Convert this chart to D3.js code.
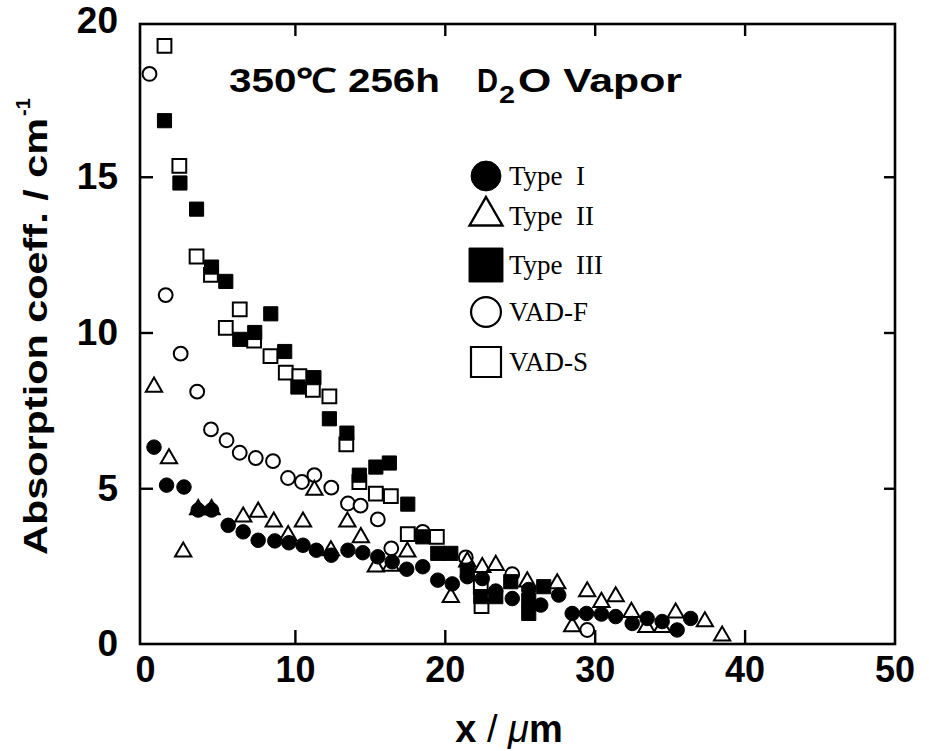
<!DOCTYPE html>
<html>
<head>
<meta charset="utf-8">
<script src="https://cdn.jsdelivr.net/npm/d3@7"></script>
<style>
  html, body { margin: 0; padding: 0; background: #fff; }
  svg { display: block; }
  text { fill: #000; }
</style>
</head>
<body>
<svg id="chart" width="929" height="751"></svg>
<script>
// ---------------- data (x in µm, absorption coeff in cm^-1) ----------------
const typeI = [
  [0.6,6.32],[1.44,5.1],[2.6,5.04],[3.55,4.3],[4.44,4.3],[5.55,3.81],[6.55,3.6],
  [7.55,3.33],[8.66,3.31],[9.6,3.25],[10.54,3.17],[11.43,3.01],[12.43,2.85],
  [13.54,3.01],[14.53,2.93],[15.53,2.8],[16.49,2.64],[17.46,2.4],[18.53,2.48],
  [19.53,2.05],[20.5,1.93],[21.5,2.16],[22.5,2.1],[23.4,1.7],[24.5,1.46],
  [25.6,1.75],[26.4,1.25],[27.6,1.57],[28.5,0.98],[29.45,0.98],[30.45,0.96],
  [31.4,0.88],[32.5,0.66],[33.5,0.82],[34.5,0.72],[35.5,0.45],[36.4,0.82]
];
const typeII = [
  [0.6,8.25],[1.6,5.95],[2.55,2.96],[3.55,4.32],[4.44,4.32],[6.55,4.08],[7.55,4.24],
  [8.59,3.92],[9.55,3.49],[10.54,3.92],[11.3,4.94],[12.4,3.0],[13.5,3.92],
  [14.4,3.42],[15.4,2.48],[16.4,2.5],[17.5,2.96],[20.4,1.5],[21.5,2.64],
  [22.5,2.46],[23.4,2.53],[25.5,2.0],[27.5,1.94],[28.5,0.56],[29.5,1.68],
  [30.45,1.34],[31.4,1.52],[32.45,1.02],[33.45,0.54],[34.5,0.54],[35.4,1.0],
  [37.35,0.72],[38.5,0.26]
];
const typeIII = [
  [1.3,16.8],[2.33,14.8],[3.44,13.96],[4.44,12.1],[5.39,11.64],[6.32,9.78],
  [7.32,10.0],[8.39,10.6],[9.32,9.39],[10.2,8.25],[11.27,8.55],[12.3,7.23],
  [13.47,6.77],[14.3,5.42],[15.4,5.68],[16.3,5.81],[17.53,4.49],[18.53,3.44],
  [19.53,2.91],[20.4,2.91],[21.5,2.37],[22.4,1.52],[23.4,1.52],[24.4,2.0],
  [25.6,1.4],[25.6,0.98],[26.6,1.84]
];
const vadF = [
  [0.3,18.3],[1.38,11.2],[2.38,9.32],[3.48,8.1],[4.4,6.89],[5.44,6.54],[6.32,6.14],
  [7.39,5.97],[8.54,5.87],[9.54,5.33],[10.47,5.2],[11.3,5.42],[12.43,5.02],
  [13.54,4.51],[14.38,4.44],[15.53,4.0],[16.43,3.07],[18.53,3.6],[21.4,2.78],
  [24.5,2.24],[29.5,0.45]
];
const vadS = [
  [1.3,19.2],[2.29,15.35],[3.44,12.44],[4.4,11.85],[5.39,10.15],[6.32,10.74],
  [7.28,9.74],[8.37,9.24],[9.39,8.71],[10.3,8.6],[11.2,8.16],[12.3,7.95],
  [13.43,6.41],[14.3,5.2],[15.4,4.83],[16.4,4.75],[17.53,3.53],[19.47,3.44],
  [22.4,1.84],[22.45,1.22]
];
const xTicks = [0, 10, 20, 30, 40, 50];
const yTicks = [0, 5, 10, 15, 20];
const legendNames = ["Type  I", "Type  II", "Type  III", "VAD-F", "VAD-S"];

// ---------------- layout ----------------
const svg = d3.select("#chart");
const L = 140, R = 895, T = 24, B = 644;
const x = d3.scaleLinear().domain([-0.2, 50.1]).range([142, 896]);
const y = d3.scaleLinear().domain([0, 20]).range([B, 21]);
const sans = "'Liberation Sans', Arial, Helvetica, sans-serif";
const serif = "'Liberation Serif', 'Times New Roman', serif";

// frame
svg.append("rect").attr("x", L).attr("y", T).attr("width", R - L).attr("height", B - T)
  .attr("fill", "none").attr("stroke", "#000").attr("stroke-width", 2.6);

function styleAxis(g) {
  g.select(".domain").remove();
  g.selectAll(".tick line").attr("stroke", "#000").attr("stroke-width", 2.4);
  g.selectAll(".tick text").attr("font-family", sans).attr("font-weight", "bold").attr("fill", "#000");
}

// bottom axis with labels
const gx = svg.append("g").attr("transform", `translate(0,${B})`)
  .call(d3.axisBottom(x).tickValues(xTicks).tickFormat(d3.format("d"))
    .tickSizeInner(-14).tickSizeOuter(0).tickPadding(12));
styleAxis(gx);
gx.selectAll(".tick text").attr("font-size", 36);
gx.selectAll(".tick line").filter(d => d === 0 || d === 50).remove();

// top ticks
const gxt = svg.append("g").attr("transform", `translate(0,${T})`)
  .call(d3.axisTop(x).tickValues(xTicks.filter(d => d > 0 && d < 50)).tickFormat("")
    .tickSizeInner(-12).tickSizeOuter(0));
styleAxis(gxt);

// left axis with labels
const gy = svg.append("g").attr("transform", `translate(${L},0)`)
  .call(d3.axisLeft(y).tickValues(yTicks).tickFormat(d3.format("d"))
    .tickSizeInner(-13).tickSizeOuter(0).tickPadding(22));
styleAxis(gy);
gy.selectAll(".tick text").attr("font-size", 37);
gy.selectAll(".tick line").filter(d => d === 0 || d === 20).remove();

// right ticks
const gyr = svg.append("g").attr("transform", `translate(${R},0)`)
  .call(d3.axisRight(y).tickValues(yTicks.filter(d => d > 0 && d < 20)).tickFormat("")
    .tickSizeInner(-11).tickSizeOuter(0));
styleAxis(gyr);

// ---------------- markers ----------------
const sym = (type, size) => d3.symbol().type(type).size(size)();
const series = [
  { data: vadS,   path: sym(d3.symbolSquare, 190),   fill: "#fff", lw: 2 },
  { data: vadF,   path: sym(d3.symbolCircle, 150),   fill: "#fff", lw: 2 },
  { data: typeII, path: sym(d3.symbolTriangle, 115), fill: "none", lw: 2 },
  { data: typeIII,path: sym(d3.symbolSquare, 200),   fill: "#000", lw: 1 },
  { data: typeI,  path: sym(d3.symbolCircle, 165),   fill: "#000", lw: 1 }
];
const plot = svg.append("g");
series.forEach(s => {
  plot.append("g").selectAll("path").data(s.data).join("path")
    .attr("d", s.path)
    .attr("transform", d => `translate(${x(d[0])},${y(d[1])})`)
    .attr("fill", s.fill).attr("stroke", "#000").attr("stroke-width", s.lw);
});

// ---------------- legend ----------------
const legRows = [176, 216, 265, 312, 362];
const legSyms = [
  { path: sym(d3.symbolCircle, 700),    fill: "#000", lw: 1 },
  { path: sym(d3.symbolTriangle, 470),  fill: "#fff", lw: 2.4 },
  { path: sym(d3.symbolSquare, 1150),   fill: "#000", lw: 1 },
  { path: sym(d3.symbolCircle, 700),    fill: "#fff", lw: 2.2 },
  { path: sym(d3.symbolSquare, 900),    fill: "#fff", lw: 2.2 }
];
const leg = svg.append("g");
legendNames.forEach((name, i) => {
  leg.append("path").attr("d", legSyms[i].path)
    .attr("transform", `translate(486,${legRows[i]})`)
    .attr("fill", legSyms[i].fill).attr("stroke", "#000").attr("stroke-width", legSyms[i].lw);
  leg.append("text").attr("x", 509).attr("y", legRows[i] + 9)
    .attr("font-family", serif).attr("font-size", 27)
    .style("white-space", "pre").text(name);
});

// ---------------- title ----------------
svg.append("text").attr("x", 229).attr("y", 92)
  .attr("font-family", sans).attr("font-weight", "bold").attr("font-size", 33)
  .attr("textLength", 211).attr("lengthAdjust", "spacingAndGlyphs")
  .text("350℃ 256h");
svg.append("text").attr("x", 477).attr("y", 92)
  .attr("font-family", sans).attr("font-weight", "bold").attr("font-size", 33)
  .attr("textLength", 21).attr("lengthAdjust", "spacingAndGlyphs").text("D");
svg.append("text").attr("x", 499).attr("y", 103)
  .attr("font-family", sans).attr("font-weight", "bold").attr("font-size", 24)
  .attr("textLength", 16).attr("lengthAdjust", "spacingAndGlyphs").text("2");
svg.append("text").attr("x", 518).attr("y", 92)
  .attr("font-family", sans).attr("font-weight", "bold").attr("font-size", 33)
  .attr("textLength", 164).attr("lengthAdjust", "spacingAndGlyphs").text("O Vapor");

// ---------------- axis titles ----------------
const yt = svg.append("g").attr("transform", "translate(47,555) rotate(-90)");
yt.append("text").attr("x", 0).attr("y", 0)
  .attr("font-family", sans).attr("font-weight", "bold").attr("font-size", 34)
  .attr("textLength", 437).attr("lengthAdjust", "spacingAndGlyphs")
  .text("Absorption coeff. / cm");
yt.append("text").attr("x", 439).attr("y", -17)
  .attr("font-family", sans).attr("font-weight", "bold").attr("font-size", 20)
  .text("-1");

const xt = svg.append("text").attr("x", 509).attr("y", 742).attr("text-anchor", "middle")
  .attr("font-family", sans).attr("font-weight", "bold").attr("font-size", 38);
xt.append("tspan").text("x ");
xt.append("tspan").attr("font-weight", "normal").text("/ ");
xt.append("tspan").attr("font-style", "italic").attr("font-weight", "normal").text("μ");
xt.append("tspan").text("m");
</script>
</body>
</html>
